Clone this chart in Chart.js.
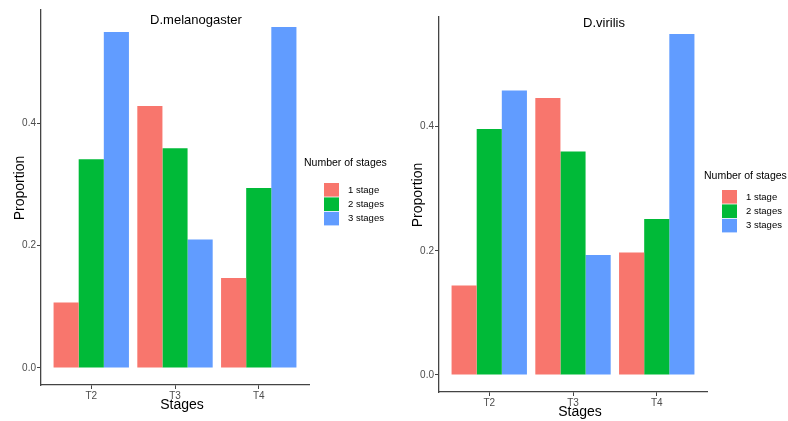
<!DOCTYPE html>
<html>
<head>
<meta charset="utf-8">
<script src="https://cdn.jsdelivr.net/npm/chart.js@4"></script>
<style>
  html, body { margin: 0; padding: 0; background: #fff; }
  #wrap { position: relative; width: 788px; height: 421px; }
  canvas { position: absolute; top: 0; }
</style>
</head>
<body>
<div id="wrap">
  <canvas id="mel" width="395" height="421" style="left:0"></canvas>
  <canvas id="vir" width="393" height="421" style="left:395px"></canvas>
</div>
<script>
const stages = ['T2', 'T3', 'T4'];
const seriesNames = ['1 stage', '2 stages', '3 stages'];
const yTicks = [0, 0.2, 0.4];

// D.melanogaster
const melOne = [0.107, 0.428, 0.147];
const melTwo = [0.341, 0.359, 0.294];
const melThree = [0.549, 0.210, 0.557];

// D.virilis
const virOne = [0.144, 0.446, 0.197];
const virTwo = [0.396, 0.360, 0.251];
const virThree = [0.458, 0.193, 0.549];

const colors = ['#F8766D', '#00BA38', '#619CFF'];
const FONT = '"Liberation Sans", Arial, sans-serif';

// extra text: title, axis titles, legend
const textPlugin = {
    id: 'text',
    afterDraw(chart, args, o) {
        const ctx = chart.ctx;
        ctx.save();
        ctx.fillStyle = '#000';
        ctx.textBaseline = 'middle';

        ctx.font = '13px ' + FONT;
        ctx.textAlign = 'center';
        ctx.fillText(o.title, o.titleX, o.titleY);

        ctx.font = '14px ' + FONT;
        ctx.fillText('Stages', o.xTitleX, o.xTitleY);
        ctx.save();
        ctx.translate(o.yTitleX, o.yTitleY);
        ctx.rotate(-Math.PI / 2);
        ctx.fillText('Proportion', 0, 0);
        ctx.restore();

        // legend
        ctx.textAlign = 'left';
        ctx.font = '10.5px ' + FONT;
        ctx.fillText('Number of stages', o.legX, o.legY);
        ctx.font = '9.5px ' + FONT;
        chart.data.datasets.forEach((ds, i) => {
            const y = o.keyY + i * 14.4;
            ctx.fillStyle = ds.backgroundColor;
            ctx.fillRect(o.keyX, y, 15, 13.6);
            ctx.fillStyle = '#000';
            ctx.fillText(ds.label, o.keyX + 24, y + 7);
        });
        ctx.restore();
    }
};

function makeChart(id, title, one, two, three, L) {
    const series = [one, two, three];
    const top = Math.max(...one, ...two, ...three);
    const pad = top * 0.05;
    const cv = document.getElementById(id);
    return new Chart(cv, {
        type: 'bar',
        data: {
            datasets: series.map((vals, i) => ({
                label: seriesNames[i],
                backgroundColor: colors[i],
                data: stages.map((s, j) => ({ x: j + 1, y: vals[j] })),
                categoryPercentage: 0.9,
                barPercentage: 1.0,
            })),
        },
        options: {
            responsive: false,
            animation: false,
            devicePixelRatio: 1,
            layout: {
                padding: { left: 0, top: L.top, right: cv.width - L.right, bottom: 0 },
            },
            plugins: {
                legend: { display: false },
                tooltip: { enabled: false },
                text: L.text,
            },
            scales: {
                x: {
                    type: 'linear',
                    offset: false,
                    min: 0.4,
                    max: stages.length + 0.6,
                    afterBuildTicks(s) { s.ticks = stages.map((c, j) => ({ value: j + 1 })); },
                    afterFit(s) { s.height = cv.height - L.bottom; },
                    ticks: {
                        callback: (v) => stages[v - 1],
                        color: '#4D4D4D',
                        font: { family: FONT, size: 10 },
                        padding: 1,
                        maxRotation: 0,
                    },
                    grid: { offset: false, drawOnChartArea: false, drawTicks: true, tickLength: 4, color: '#444', lineWidth: 1 },
                    border: { display: true, color: '#444', width: 1.3 },
                },
                y: {
                    min: -pad,
                    max: top + pad,
                    afterBuildTicks(s) { s.ticks = yTicks.map(v => ({ value: v })); },
                    afterFit(s) { s.width = L.left; },
                    ticks: {
                        callback: (v) => v.toFixed(1),
                        color: '#4D4D4D',
                        font: { family: FONT, size: 10 },
                        padding: 1,
                    },
                    grid: { drawOnChartArea: false, drawTicks: true, tickLength: 4, color: '#444', lineWidth: 1 },
                    border: { display: true, color: '#444', width: 1.3 },
                },
            },
        },
        plugins: [textPlugin],
    });
}

makeChart('mel', 'D.melanogaster', melOne, melTwo, melThree, {
    left: 41, right: 309, top: 10, bottom: 385,
    text: {
        title: 'D.melanogaster', titleX: 196, titleY: 20,
        xTitleX: 182, xTitleY: 405, yTitleX: 20, yTitleY: 188,
        legX: 304, legY: 163, keyX: 324, keyY: 183,
    },
});

makeChart('vir', 'D.virilis', virOne, virTwo, virThree, {
    left: 44, right: 312, top: 17, bottom: 392,
    text: {
        title: 'D.virilis', titleX: 209, titleY: 23,
        xTitleX: 185, xTitleY: 412, yTitleX: 23, yTitleY: 195,
        legX: 309, legY: 176, keyX: 327, keyY: 190,
    },
});
</script>
</body>
</html>
